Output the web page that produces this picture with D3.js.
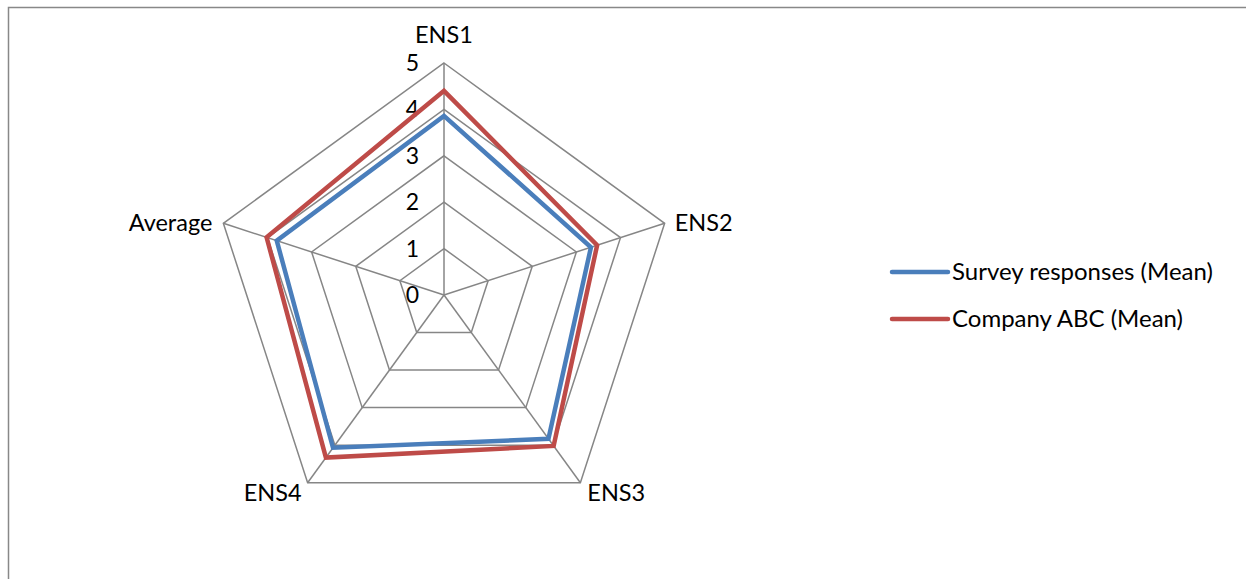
<!DOCTYPE html>
<html>
<head>
<meta charset="utf-8">
<script src="https://cdn.jsdelivr.net/npm/d3@7"></script>
<style>
  body { margin: 0; background: #fff; }
  svg text { font-family: Lato, "Open Sans", sans-serif; fill: #000; }
</style>
</head>
<body>
<div id="chart"></div>
<script>
// chart data
const axes = ["ENS1", "ENS2", "ENS3", "ENS4", "Average"];
const surveyMean = [3.86, 3.33, 3.83, 4.07, 3.79];
const companyMean = [4.4, 3.47, 4.02, 4.33, 4.02];
const ticks = [0, 1, 2, 3, 4, 5];
const seriesNames = ["Survey responses (Mean)", "Company ABC (Mean)"];
const seriesColors = ["#4a7ebb", "#be4b48"];

const width = 1246, height = 579;
const cx = 444, cy = 295, radius = 232;

let svg = d3.select("#chart").append("svg")
    .attr("width", width)
    .attr("height", height);

// outer frame (only top and left edges show)
svg.append("path")
    .attr("d", `M8.5,${height} L8.5,7.5 L${width},7.5`)
    .attr("fill", "none")
    .attr("stroke", "#888")
    .attr("stroke-width", 1.5);

let r = d3.scaleLinear().domain([0, 5]).range([0, radius]);
let angle = d3.scalePoint().domain(axes).range([0, 2 * Math.PI * (axes.length - 1) / axes.length]);

function point(name, v) {
    let a = angle(name);
    return [cx + r(v) * Math.sin(a), cy - r(v) * Math.cos(a)];
}

let g = svg.append("g");

// grid polygons
ticks.slice(1).forEach(t => {
    g.append("polygon")
        .attr("points", axes.map(a => point(a, t).join(",")).join(" "))
        .attr("fill", "none")
        .attr("stroke", "#868686")
        .attr("stroke-width", 1.5);
});

// spokes
axes.forEach(a => {
    let p = point(a, 5);
    g.append("line")
        .attr("x1", cx).attr("y1", cy)
        .attr("x2", p[0]).attr("y2", p[1])
        .attr("stroke", "#868686")
        .attr("stroke-width", 1.5);
});

// tick labels
g.selectAll(".tick-label")
    .data(ticks)
    .enter()
    .append("text")
    .attr("class", "tick-label")
    .attr("x", cx - 25)
    .attr("y", d => cy - r(d) + 8)
    .attr("text-anchor", "end")
    .style("font-size", "23px")
    .text(d => d);

// axis labels
const labelPos = {
    "ENS1": { dx: 0, dy: -20, anchor: "middle" },
    "ENS2": { dx: 10, dy: 8, anchor: "start" },
    "ENS3": { dx: 7, dy: 18, anchor: "start" },
    "ENS4": { dx: -6, dy: 18, anchor: "end" },
    "Average": { dx: -11, dy: 8, anchor: "end" }
};
axes.forEach(a => {
    let p = point(a, 5);
    g.append("text")
        .attr("x", p[0] + labelPos[a].dx)
        .attr("y", p[1] + labelPos[a].dy)
        .attr("text-anchor", labelPos[a].anchor)
        .style("font-size", "23.5px")
        .text(a);
});

// series
let line = d3.lineRadial()
    .angle((d, i) => angle(axes[i]))
    .radius(d => r(d))
    .curve(d3.curveLinearClosed);

[surveyMean, companyMean].forEach((vals, i) => {
    g.append("path")
        .datum(vals)
        .attr("transform", `translate(${cx},${cy})`)
        .attr("d", line)
        .attr("fill", "none")
        .attr("stroke", seriesColors[i])
        .attr("stroke-width", 4.5)
        .attr("stroke-linejoin", "miter");
});

// legend
let legend = svg.append("g").attr("transform", "translate(892, 272)");
seriesNames.forEach((name, i) => {
    let row = legend.append("g").attr("transform", `translate(0, ${i * 47})`);
    row.append("line")
        .attr("x1", 0).attr("x2", 56)
        .attr("y1", 0).attr("y2", 0)
        .attr("stroke", seriesColors[i])
        .attr("stroke-width", 4.5)
        .attr("stroke-linecap", "round");
    row.append("text")
        .attr("x", 60)
        .attr("y", 8)
        .style("font-size", "24px")
        .text(name);
});
</script>
</body>
</html>
